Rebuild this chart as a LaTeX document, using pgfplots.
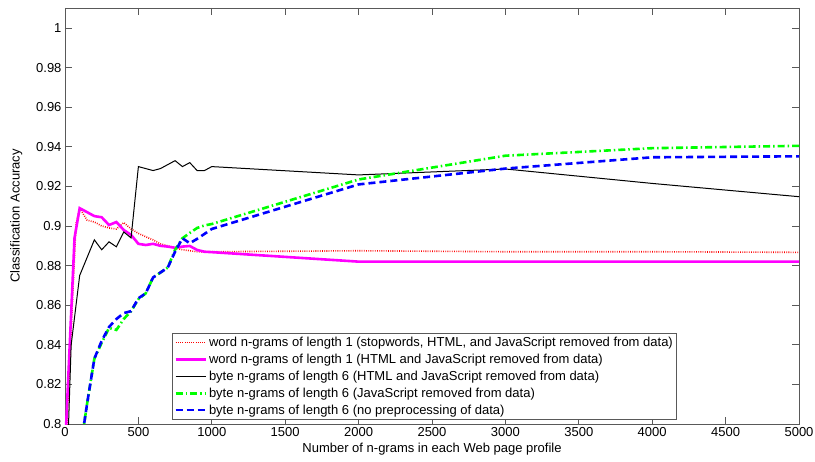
\documentclass[border=0pt]{standalone}
\usepackage{pgfplots}
\pgfplotsset{compat=1.18}
\usepackage{fontspec}
\setmainfont{Liberation Sans}
\usetikzlibrary{calc}
\definecolor{axgray}{gray}{0.35}
\definecolor{mag}{rgb}{1,0,1}
\definecolor{grn}{rgb}{0,1,0}
\definecolor{blu}{rgb}{0,0,1}
\definecolor{rd}{rgb}{1,0,0}
\begin{document}
\begin{tikzpicture}
\begin{axis}[
  name=ax,
  scale only axis,
  width=734pt, height=416pt,
  xmin=0, xmax=5000, ymin=0.8, ymax=1.0101,
  xtick={0,500,...,5000},
  xticklabels={0,500,1000,1500,2000,2500,3000,3500,4000,4500,5000},
  ytick={0.8,0.82,0.84,0.86,0.88,0.9,0.92,0.94,0.96,0.98,1},
  yticklabels={0.8,0.82,0.84,0.86,0.88,0.9,0.92,0.94,0.96,0.98,1},
  tick align=inside,
  major tick length=7pt,
  tick style={axgray, line width=0.8pt},
  axis line style={axgray, line width=0.8pt},
  ticklabel style={font=\fontsize{13}{15}\selectfont},
  label style={font=\fontsize{13}{15}\selectfont},
  xlabel={Number of n-grams in each Web page profile},
  ylabel={Classification Accuracy},
  xlabel style={yshift=1pt},
  ylabel style={yshift=7pt},
  xticklabel style={yshift=0pt},
  legend cell align=left,
  legend style={at={(0.1458,0.0096)}, anchor=south west,
    font=\fontsize{13}{15}\selectfont, draw=axgray, line width=0.8pt,
    inner xsep=2pt, inner ysep=2pt, row sep=2pt},
  legend image code/.code={\draw[#1] (0pt,0pt) -- (30pt,0pt);},
]
\addplot[rd, line width=1.6pt, dash pattern=on 0.8pt off 1.4pt] coordinates {
(10,0.795) (75,0.901) (100,0.909) (150,0.903) (200,0.902) (250,0.900) (300,0.899) (350,0.8985) (400,0.9017) (450,0.8985) (500,0.8963) (550,0.8946) (600,0.893) (650,0.891) (700,0.890) (750,0.889) (800,0.888) (850,0.8875) (900,0.887) (950,0.887) (1000,0.887) (2000,0.8875) (3000,0.887) (4000,0.887) (5000,0.8867)};
\addlegendentry{word n-grams of length 1 (stopwords, HTML, and JavaScript removed from data)}
\addplot[mag, line width=2.6pt] coordinates {
(5,0.795) (65,0.894) (100,0.909) (150,0.907) (200,0.905) (250,0.9044) (300,0.9005) (350,0.902) (400,0.898) (450,0.8955) (500,0.891) (550,0.8904) (600,0.891) (650,0.890) (700,0.8896) (750,0.889) (800,0.8896) (850,0.8899) (900,0.8879) (950,0.887) (1000,0.8868) (2000,0.882) (3000,0.882) (4000,0.882) (5000,0.882)};
\addlegendentry{word n-grams of length 1 (HTML and JavaScript removed from data)}
\addplot[black, line width=1pt] coordinates {
(22,0.795) (42,0.84) (100,0.875) (150,0.884) (200,0.893) (250,0.888) (300,0.892) (350,0.8895) (400,0.897) (450,0.894) (500,0.930) (550,0.929) (600,0.928) (650,0.929) (700,0.931) (750,0.933) (800,0.930) (850,0.932) (900,0.928) (950,0.928) (1000,0.930) (2000,0.9258) (3000,0.9288) (4000,0.9215) (5000,0.9148)};
\addlegendentry{byte n-grams of length 6 (HTML and JavaScript removed from data)}
\addplot[grn, line width=2.6pt, dash pattern=on 7pt off 3pt on 1.5pt off 3pt] coordinates {
(120,0.795) (150,0.81) (200,0.833) (250,0.841) (300,0.8485) (350,0.8475) (400,0.853) (450,0.857) (500,0.863) (550,0.866) (600,0.874) (650,0.8765) (700,0.879) (750,0.888) (800,0.8938) (850,0.8965) (900,0.899) (950,0.9003) (1000,0.901) (2000,0.9235) (3000,0.9355) (4000,0.9393) (5000,0.9405)};
\addlegendentry{byte n-grams of length 6 (JavaScript removed from data)}
\addplot[blu, line width=2.6pt, dash pattern=on 7pt off 4pt] coordinates {
(120,0.795) (150,0.81) (200,0.833) (250,0.842) (300,0.849) (350,0.853) (400,0.856) (450,0.857) (500,0.8635) (550,0.866) (600,0.874) (650,0.8765) (700,0.879) (750,0.887) (800,0.8938) (850,0.8913) (900,0.8935) (950,0.896) (1000,0.8985) (2000,0.921) (3000,0.929) (4000,0.9347) (5000,0.9352)};
\addlegendentry{byte n-grams of length 6 (no preprocessing of data)}
\end{axis}
\pgfresetboundingbox
\path ($(ax.south west)+(-65pt,-37pt)$) rectangle ($(ax.north east)+(16pt,8pt)$);
\end{tikzpicture}
\end{document}
